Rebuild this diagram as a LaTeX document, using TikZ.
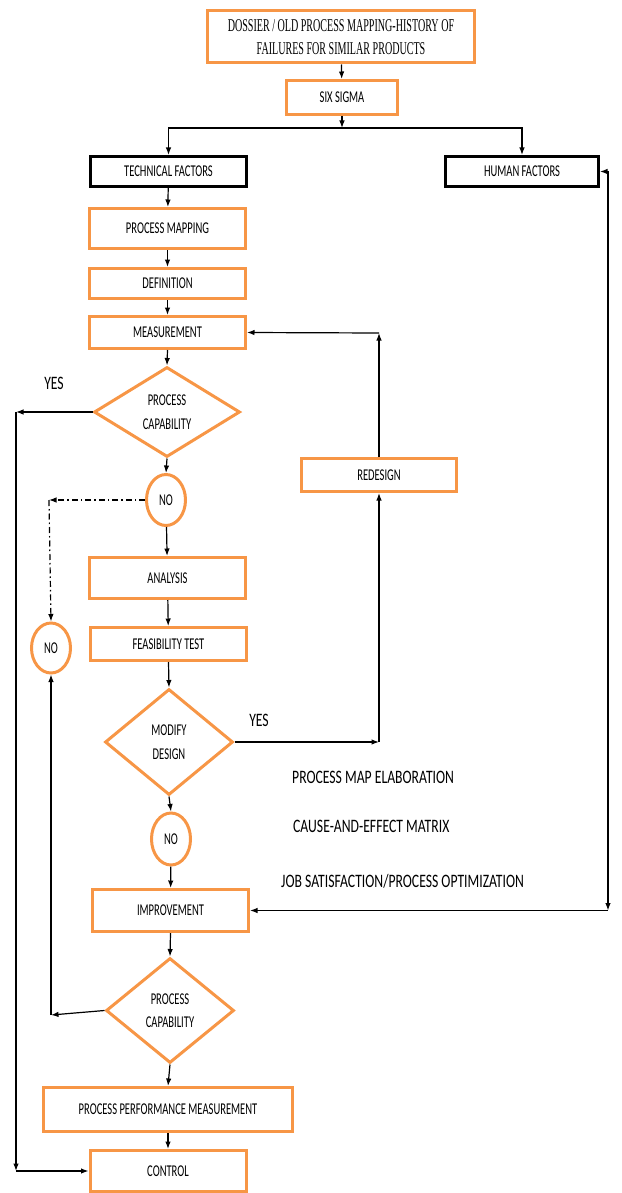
\documentclass[tikz,border=0pt]{standalone}
\usepackage{fontspec}
\setmainfont{Carlito}[FakeStretch=0.64]
\newfontfamily\sidefont{Carlito}[FakeStretch=0.72]
\newfontfamily\topfont{Liberation Serif}[FakeStretch=0.56]
\usetikzlibrary{shapes.geometric,arrows.meta}
\definecolor{boxorange}{RGB}{247,150,70}
\tikzset{
  obox/.style={draw=boxorange,line width=3pt,rectangle,inner sep=0pt,font=\fontsize{16.5}{21}\selectfont,align=center},
  kbox/.style={draw=black,line width=3pt,rectangle,inner sep=0pt,font=\fontsize{16.5}{21}\selectfont},
  odia/.style={draw=boxorange,line width=3pt,diamond,inner sep=0pt,font=\fontsize{16.5}{23.5}\selectfont,align=center},
  ocirc/.style={draw=boxorange,line width=3pt,ellipse,inner sep=0pt,font=\fontsize{16.5}{21}\selectfont},
  conn/.style={draw=black,line width=1.2pt,-{Latex[length=7.5pt,width=5.5pt]}},
  dd/.style={conn,dash pattern=on 6pt off 3pt on 1.5pt off 3pt},
  sidetext/.style={inner sep=0pt,font=\sidefont\fontsize{19}{22}\selectfont},
}
\begin{document}
\begin{tikzpicture}[x=1pt,y=-1pt]
\useasboundingbox (0,0) rectangle (621,1193);
% boxes
\node[obox,minimum width=267pt,minimum height=52pt,font=\topfont\fontsize{18}{22.5}\selectfont] (top) at (341,37) {DOSSIER / OLD PROCESS MAPPING-HISTORY OF\\FAILURES FOR SIMILAR PRODUCTS};
\node[obox,minimum width=111pt,minimum height=34pt] (six) at (342,97.5) {SIX SIGMA};
\node[kbox,minimum width=156pt,minimum height=30pt] (tf) at (168.5,171.5) {TECHNICAL FACTORS};
\node[kbox,minimum width=153pt,minimum height=30pt] (hf) at (522,171.5) {HUMAN FACTORS};
\node[obox,minimum width=156pt,minimum height=40pt] (pm) at (167.5,228.5) {PROCESS MAPPING};
\node[obox,minimum width=156pt,minimum height=30pt] (def) at (167.5,283.5) {DEFINITION};
\node[obox,minimum width=156pt,minimum height=32pt] (meas) at (167.5,332.5) {MEASUREMENT};
\node[odia,minimum width=146pt,minimum height=90pt] (pc1) at (167,412) {PROCESS\\CAPABILITY};
\node[ocirc,minimum width=39pt,minimum height=51pt] (no1) at (166,500) {NO};
\node[ocirc,minimum width=39pt,minimum height=50pt] (no2) at (51,648) {NO};
\node[obox,minimum width=156pt,minimum height=41pt] (an) at (167.5,578) {ANALYSIS};
\node[obox,minimum width=156pt,minimum height=33pt] (ft) at (168.5,644) {FEASIBILITY TEST};
\node[odia,minimum width=128pt,minimum height=106pt] (md) at (169,742) {MODIFY\\DESIGN};
\node[obox,minimum width=155pt,minimum height=33pt] (rd) at (379,475) {REDESIGN};
\node[ocirc,minimum width=39pt,minimum height=52pt] (no3) at (171,839) {NO};
\node[obox,minimum width=156pt,minimum height=42pt] (imp) at (170.5,910.5) {IMPROVEMENT};
\node[odia,minimum width=128pt,minimum height=105pt] (pc3) at (170,1010.5) {PROCESS\\CAPABILITY};
\node[obox,minimum width=249pt,minimum height=44pt] (ppm) at (168,1109.5) {PROCESS PERFORMANCE MEASUREMENT};
\node[obox,minimum width=156pt,minimum height=41pt] (ctl) at (168,1171) {CONTROL};
% free labels
\node[sidetext] (yes1) at (54,383) {YES};
\node[sidetext] (yes2) at (259,720) {YES};
\node[sidetext,anchor=west] (t1) at (292,777) {PROCESS MAP ELABORATION};
\node[sidetext,anchor=west] (t2) at (293,826) {CAUSE-AND-EFFECT MATRIX};
\node[sidetext,anchor=west] (t3) at (281,881) {JOB SATISFACTION/PROCESS OPTIMIZATION};
% corner coordinates
\coordinate (br) at (342,128);
\coordinate (yA) at (16,412);
\coordinate (yB) at (16,1171);
\coordinate (dA) at (49,500);
\coordinate (cA) at (51,1015);
\coordinate (rA) at (379,742);
\coordinate (rB) at (379,333);
\coordinate (hA) at (608,171.5);
\coordinate (hB) at (608,910.5);
% connectors
\draw[conn] (top) -- (six);
\draw[conn] (six) -- (br);
\draw[conn] (br) -| (tf.north);
\draw[conn] (br) -| (hf.north);
\draw[conn] (tf) -- (pm);
\draw[conn] (pm) -- (def);
\draw[conn] (def) -- (meas);
\draw[conn] (meas.south) -- (pc1.north);
\draw[conn] (pc1.south) -- (no1.north);
\draw[conn] (no1) -- (an);
\draw[conn] (an) -- (ft);
\draw[conn] (ft.south) -- (md.north);
\draw[conn] (md.south) -- (no3.north);
\draw[conn] (no3) -- (imp);
\draw[conn] (imp.south) -- (pc3.north);
\draw[conn] (pc3.south) -- (ppm.north);
\draw[conn] (ppm) -- (ctl);
\draw[conn] (pc1.west) -- (yA);
\draw[conn] (yA) -- (yB);
\draw[conn] (yB) -- (ctl.west);
\draw[dd] (no1.west) -- (dA);
\draw[dd] (dA) -- (no2.north);
\draw[conn] (pc3.west) -- (cA);
\draw[conn] (cA) -- (no2.south);
\draw[conn] (md.east) -- (rA);
\draw[conn] (rA) -- (rd.south);
\draw[conn] (rd.north) -- (rB);
\draw[conn] (rB) -- (meas.east);
\draw[conn] (hA) -- (hf.east);
\draw[conn] (hA) -- (hB);
\draw[conn] (hB) -- (imp.east);
\end{tikzpicture}
\end{document}
